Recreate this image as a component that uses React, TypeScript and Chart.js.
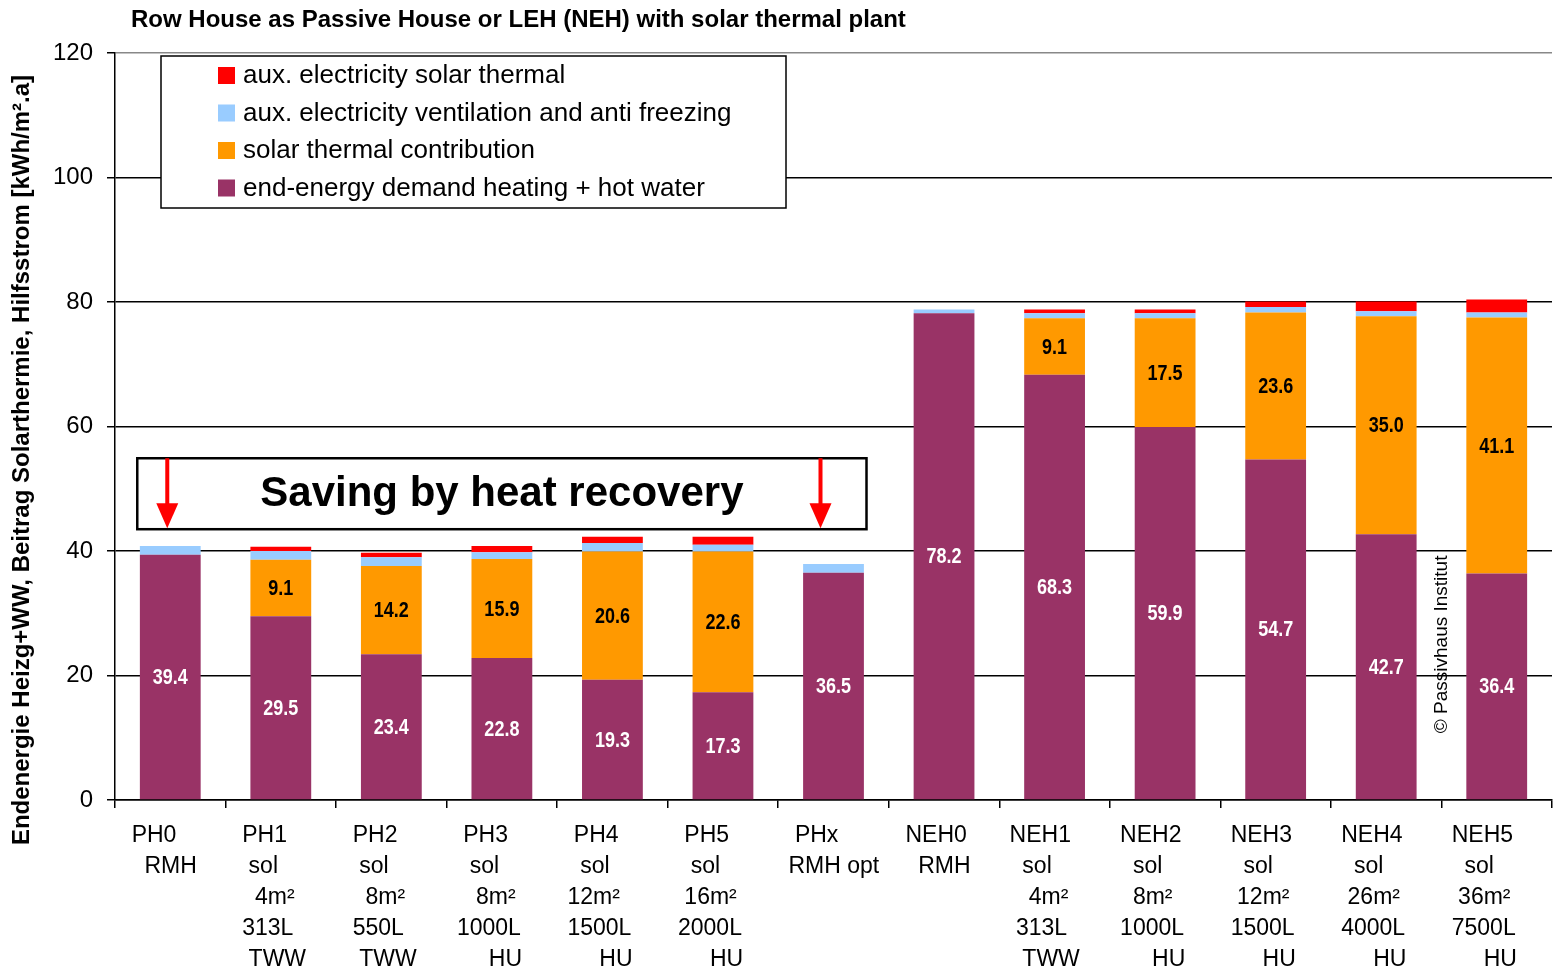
import React, { useEffect, useRef } from 'react';
import { Chart, registerables } from 'chart.js';

Chart.register(...registerables);

const categories = ['PH0 RMH', 'PH1 sol', 'PH2 sol', 'PH3 sol', 'PH4 sol', 'PH5 sol', 'PHx RMH opt', 'NEH0 RMH', 'NEH1 sol', 'NEH2 sol', 'NEH3 sol', 'NEH4 sol', 'NEH5 sol'];

const xLabelLines: string[][] = [
  [' PH0', '   RMH'],
  [' PH1', '  sol', '   4m²', ' 313L', '  TWW'],
  [' PH2', '  sol', '   8m²', ' 550L', '  TWW'],
  [' PH3', '  sol', '   8m²', '1000L', '     HU'],
  [' PH4', '  sol', '12m²', '1500L', '     HU'],
  [' PH5', '  sol', ' 16m²', '2000L', '     HU'],
  [' PHx', 'RMH opt'],
  [' NEH0', '   RMH'],
  ['NEH1', '  sol', '   4m²', ' 313L', '  TWW'],
  ['NEH2', '  sol', '  8m²', '1000L', '     HU'],
  ['NEH3', '  sol', ' 12m²', '1500L', '     HU'],
  ['NEH4', '  sol', ' 26m²', '4000L', '     HU'],
  ['NEH5', '  sol', ' 36m²', '7500L', '     HU'],
];

const demandHeating = [39.4, 29.5, 23.4, 22.8, 19.3, 17.3, 36.5, 78.2, 68.3, 59.9, 54.7, 42.7, 36.4];
const solarContribution = [0, 9.1, 14.2, 15.9, 20.6, 22.6, 0, 0, 9.1, 17.5, 23.6, 35.0, 41.1];
const auxVentilation = [1.4, 1.4, 1.4, 1.1, 1.4, 1.1, 1.4, 0.6, 0.8, 0.8, 0.9, 0.8, 0.8];
const auxSolar = [0, 0.7, 0.7, 1.0, 1.0, 1.3, 0, 0, 0.6, 0.6, 0.9, 1.6, 2.1];

const seriesNames = ['end-energy demand heating + hot water', 'solar thermal contribution', 'aux. electricity ventilation and anti freezing', 'aux. electricity solar thermal'];
const seriesColors = ['#993366', '#FF9900', '#99CCFF', '#FF0000'];

const yMin = 0;
const yMax = 120;
const yStep = 20;

const chartTitle = 'Row House as Passive House or LEH (NEH) with solar thermal plant';
const yAxisTitle = 'Endenergie Heizg+WW, Beitrag Solarthermie, Hilfsstrom [kWh/m².a]';
const boxText = 'Saving by heat recovery';
const watermark = '© Passivhaus Institut';

const FONT = "'Liberation Sans', Arial, sans-serif";

const overlayPlugin = {
  id: 'overlay',
  afterDraw(chart: any) {
    const ctx: CanvasRenderingContext2D = chart.ctx;
    const area = chart.chartArea;
    const xs = chart.scales.x;
    const ys = chart.scales.y;

    // data labels
    ctx.save();
    ctx.font = `bold 20px ${FONT}`;
    ctx.textAlign = 'center';
    ctx.textBaseline = 'middle';
    [0, 1].forEach((d) => {
      const meta = chart.getDatasetMeta(d);
      const data = chart.data.datasets[d].data as number[];
      meta.data.forEach((bar: any, i: number) => {
        const v = data[i];
        if (!v) return;
        const p = bar.getProps(['x', 'y', 'base'], true);
        ctx.fillStyle = d === 0 ? '#ffffff' : '#000000';
        ctx.save();
        ctx.translate(p.x, (p.y + p.base) / 2 + 1);
        ctx.scale(0.9, 1.1);
        ctx.fillText(v.toFixed(1), 0, 0);
        ctx.restore();
      });
    });
    ctx.restore();

    // watermark
    ctx.save();
    const wx = (xs.getPixelForValue(11) + xs.getPixelForValue(12)) / 2;
    const wy = ys.getPixelForValue(25);
    ctx.translate(wx, wy);
    ctx.rotate(-Math.PI / 2);
    ctx.font = `19px ${FONT}`;
    ctx.fillStyle = '#000';
    ctx.textAlign = 'center';
    ctx.textBaseline = 'middle';
    ctx.fillText(watermark, 0, 0);
    ctx.restore();

    // legend box
    ctx.save();
    const lx = area.left + 46;
    const ly = area.top + 3;
    const lw = 625;
    const lh = 152;
    ctx.fillStyle = '#fff';
    ctx.fillRect(lx, ly, lw, lh);
    ctx.strokeStyle = '#000';
    ctx.lineWidth = 1.5;
    ctx.strokeRect(lx, ly, lw, lh);
    ctx.font = `26px ${FONT}`;
    ctx.textAlign = 'left';
    ctx.textBaseline = 'middle';
    for (let k = 0; k < 4; k++) {
      const d = 3 - k;
      const cy = ly + 19 + 37.5 * k;
      ctx.fillStyle = seriesColors[d];
      ctx.fillRect(lx + 57, cy - 8, 17, 17);
      ctx.fillStyle = '#000';
      ctx.fillText(seriesNames[d], lx + 82, cy + 1);
    }
    ctx.restore();

    // saving box
    ctx.save();
    const bx0 = xs.getPixelForValue(0) - 33;
    const bx1 = xs.getPixelForValue(6) + 33;
    const by0 = ys.getPixelForValue(54.9);
    const by1 = ys.getPixelForValue(43.5);
    ctx.fillStyle = '#fff';
    ctx.fillRect(bx0, by0, bx1 - bx0, by1 - by0);
    ctx.strokeStyle = '#000';
    ctx.lineWidth = 2.5;
    ctx.strokeRect(bx0, by0, bx1 - bx0, by1 - by0);
    ctx.font = `bold 42px ${FONT}`;
    ctx.fillStyle = '#000';
    ctx.textAlign = 'center';
    ctx.textBaseline = 'middle';
    ctx.fillText(boxText, (bx0 + bx1) / 2, (by0 + by1) / 2 + 1);
    const arrowXs = [xs.getPixelForValue(0) - 3, xs.getPixelForValue(6) - 13];
    ctx.fillStyle = '#FF0000';
    arrowXs.forEach((ax) => {
      ctx.fillRect(ax - 2, by0, 4, by1 - by0 - 22);
      ctx.beginPath();
      ctx.moveTo(ax - 11, by1 - 26);
      ctx.lineTo(ax + 11, by1 - 26);
      ctx.lineTo(ax, by1 - 1);
      ctx.closePath();
      ctx.fill();
    });
    ctx.restore();

    // x labels
    ctx.save();
    ctx.font = `23px ${FONT}`;
    ctx.fillStyle = '#000';
    ctx.textAlign = 'left';
    ctx.textBaseline = 'middle';
    xLabelLines.forEach((lines, i) => {
      const x0 = xs.getPixelForValue(i) - 45;
      lines.forEach((line, j) => {
        ctx.fillText(line, x0, area.bottom + 36 + 31 * j);
      });
    });
    ctx.restore();

    // title
    ctx.save();
    ctx.font = `bold 24px ${FONT}`;
    ctx.fillStyle = '#000';
    ctx.textAlign = 'left';
    ctx.textBaseline = 'middle';
    ctx.fillText(chartTitle, 131, 20);
    ctx.restore();

    // y axis title
    ctx.save();
    ctx.translate(22, 460);
    ctx.rotate(-Math.PI / 2);
    ctx.font = `bold 24px ${FONT}`;
    ctx.fillStyle = '#000';
    ctx.textAlign = 'center';
    ctx.textBaseline = 'middle';
    ctx.fillText(yAxisTitle, 0, 0);
    ctx.restore();
  },
};

export default function App() {
  const ref = useRef<HTMLCanvasElement | null>(null);
  useEffect(() => {
    if (!ref.current) return;
    const series = [demandHeating, solarContribution, auxVentilation, auxSolar];
    const chart = new Chart(ref.current, {
      type: 'bar',
      data: {
        labels: categories,
        datasets: series.map((d, k) => ({
          label: seriesNames[k],
          data: d,
          backgroundColor: seriesColors[k],
          borderWidth: 0,
          barPercentage: 0.55,
          categoryPercentage: 1,
        })),
      },
      options: {
        responsive: false,
        animation: false,
        events: [],
        layout: { padding: { top: 53, right: 5, left: 0, bottom: 0 } },
        plugins: { legend: { display: false }, title: { display: false }, tooltip: { enabled: false } },
        scales: {
          x: {
            stacked: true,
            afterFit: (s: any) => { s.height = 180; },
            ticks: { display: false },
            grid: { drawOnChartArea: false, drawTicks: true, tickLength: 8, offset: true, color: '#000', lineWidth: 1.5 },
            border: { display: true, color: '#000', width: 1.5 },
          },
          y: {
            stacked: true,
            min: yMin,
            max: yMax,
            afterFit: (s: any) => { s.width = 115; },
            ticks: { stepSize: yStep, color: '#000', padding: 14, font: { family: FONT, size: 24 } },
            grid: {
              color: (c: any) => (c.tick && c.tick.value === yMax ? '#888' : '#000'),
              lineWidth: 1.5,
              tickLength: 8,
              tickColor: '#000',
            },
            border: { display: true, color: '#000', width: 1.5 },
          },
        },
      },
      plugins: [overlayPlugin],
    });
    return () => chart.destroy();
  }, []);
  return (
    <div style={{ position: 'absolute', left: 0, top: 0, width: 1557, height: 980, background: '#fff' }}>
      <canvas ref={ref} width={1557} height={980} />
    </div>
  );
}
